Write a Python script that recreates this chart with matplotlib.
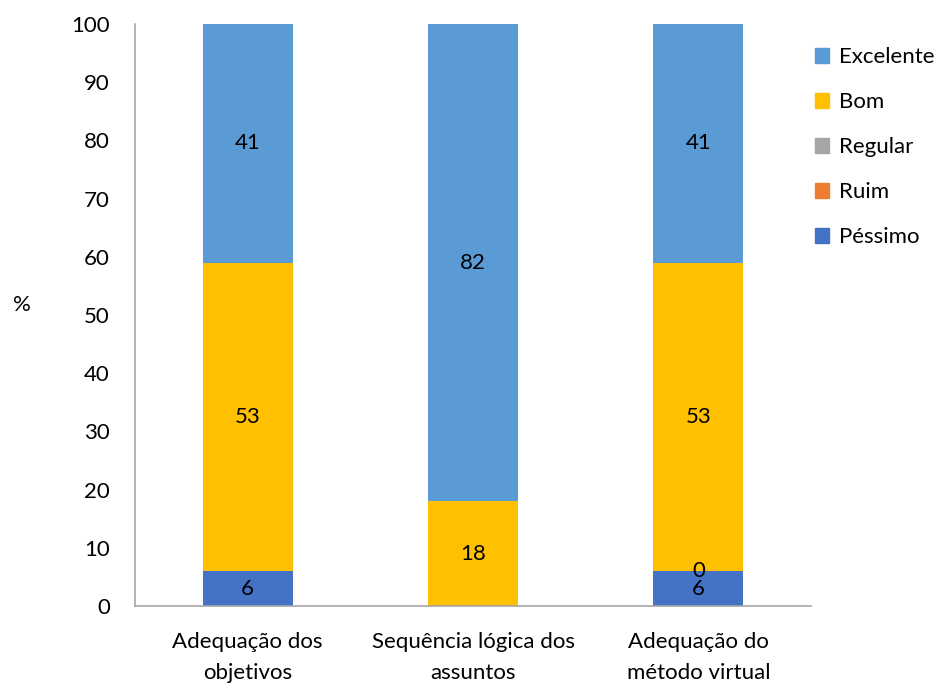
import matplotlib.pyplot as plt
from matplotlib.patches import Patch

plt.rcParams['font.family'] = ['Lato', 'DejaVu Sans']

categories = ['Adequação dos\nobjetivos', 'Sequência lógica dos\nassuntos', 'Adequação do\nmétodo virtual']
series = ['Péssimo', 'Ruim', 'Regular', 'Bom', 'Excelente']
pessimo = [6, 0, 6]
ruim = [0, 0, 0]
regular = [0, 0, 0]
bom = [53, 18, 53]
excelente = [41, 82, 41]
# which segment labels are visible in the original
labels = {
    'Péssimo': ['6', '', '6'],
    'Ruim': ['', '', '0'],
    'Regular': ['', '', ''],
    'Bom': ['53', '18', '53'],
    'Excelente': ['41', '82', '41'],
}
colors = {
    'Péssimo': '#4472C4',
    'Ruim': '#ED7D31',
    'Regular': '#A5A5A5',
    'Bom': '#FFC000',
    'Excelente': '#5B9BD5',
}
values = dict(zip(series, [pessimo, ruim, regular, bom, excelente]))

fig = plt.figure(figsize=(9.43, 6.84), dpi=100)
ax = fig.add_axes([135 / 943, 78 / 684, 676 / 943, 582 / 684])

x = range(len(categories))
bottom = [0, 0, 0]
for s in series:
    vals = values[s]
    bars = ax.bar(x, vals, 0.4, bottom=bottom, color=colors[s], zorder=2)
    ax.bar_label(bars, labels=labels[s], label_type='center', fontsize=16, color='black')
    bottom = [b + v for b, v in zip(bottom, vals)]

ax.set_xlim(-0.5, 2.5)
ax.set_ylim(0, 100)
ax.set_yticks(range(0, 101, 10))
ax.set_xticks(list(x))
ax.set_xticklabels(categories, fontsize=16, linespacing=1.65)
ax.tick_params(axis='y', labelsize=16, length=0, pad=18)
ax.tick_params(axis='x', length=0, pad=19)
for sp in ['top', 'right']:
    ax.spines[sp].set_visible(False)
ax.spines['left'].set_color('#A6A6A6')
ax.spines['bottom'].set_color('#A6A6A6')
ax.spines['left'].set_linewidth(1.2)
ax.spines['bottom'].set_linewidth(1.2)

fig.text(22 / 943, 1 - 305 / 684, '%', fontsize=16, ha='center', va='center')

handles = [Patch(color=colors[s], label=s) for s in reversed(series)]
fig.legend(handles=handles, loc='upper left', bbox_to_anchor=(806 / 943, 1 - 38 / 684),
           frameon=False, fontsize=16, handlelength=0.65, handleheight=0.65,
           handletextpad=0.45, labelspacing=1.13, borderaxespad=0)

fig.savefig('out.png', dpi=100)
